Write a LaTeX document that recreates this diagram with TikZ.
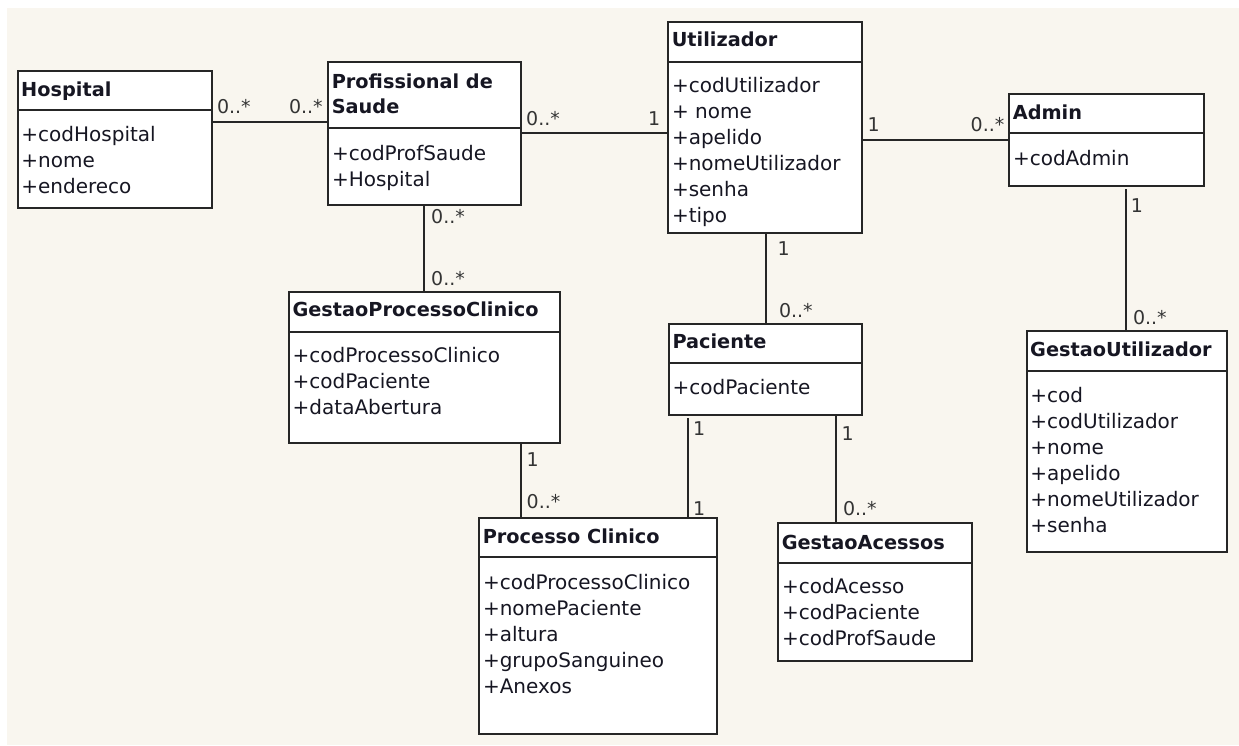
\documentclass[tikz,border=0pt]{standalone}
\usepackage{fontspec}
\setmainfont{DejaVu Sans}
\definecolor{bgcol}{RGB}{249,246,239}
\definecolor{linecol}{RGB}{38,38,38}
\definecolor{txtcol}{RGB}{22,22,34}
\definecolor{multcol}{RGB}{52,52,52}

\begin{document}
\begin{tikzpicture}[x=1pt,y=-1pt,
    cls/.style={draw=linecol,line width=1.8pt,fill=white,anchor=north west,inner sep=0pt,outer sep=0pt},
    divider/.style={draw=linecol,line width=1.8pt},
    ttl/.style={anchor=base west,inner sep=0pt,align=left,text=txtcol,font=\bfseries\fontsize{19.3}{25}\selectfont},
    att/.style={anchor=base west,inner sep=0pt,align=left,text=txtcol,font=\fontsize{20}{26}\selectfont},
    multlbl/.style={anchor=base west,inner sep=0pt,text=multcol,font=\fontsize{19}{19}\selectfont},
    assoc/.style={draw=linecol,line width=1.8pt}]
    \useasboundingbox (0,0) rectangle (1239,745);
    \fill[white] (0,0) rectangle (1239,745);
    \fill[bgcol] (7,8) rectangle (1239,745);

    % classes (multi-line texts sit on the baseline of their last line)
    \node[cls,minimum width=194.6,minimum height=137.6] (hosp) at (17.7,70.7) {};
    \draw[divider] (hosp.west |- 0,110) -- (hosp.east |- 0,110);
    \node[ttl] (hosp-t) at (21,96.7) {Hospital};
    \node[att] (hosp-a) at (21.2,193.7) {+codHospital\\+nome\\+endereco};

    \node[cls,minimum width=192.4,minimum height=142.7] (prof) at (328.3,62.3) {};
    \draw[divider] (prof.west |- 0,128) -- (prof.east |- 0,128);
    \node[ttl] (prof-t) at (331.6,113.3) {Profissional de\\Saude};
    \node[att] (prof-a) at (331.8,186.5) {+codProfSaude\\+Hospital};

    \node[cls,minimum width=193.4,minimum height=211] (util) at (668.3,22.3) {};
    \draw[divider] (util.west |- 0,61.7) -- (util.east |- 0,61.7);
    \node[ttl] (util-t) at (671.6,46.7) {Utilizador};
    \node[att] (util-a) at (671.8,222.7) {+codUtilizador\\+ nome\\+apelido\\+nomeUtilizador\\+senha\\+tipo};

    \node[cls,minimum width=194.7,minimum height=91.7] (admin) at (1009.3,94) {};
    \draw[divider] (admin.west |- 0,133.3) -- (admin.east |- 0,133.3);
    \node[ttl] (admin-t) at (1012.6,119) {Admin};
    \node[att] (admin-a) at (1012.8,165) {+codAdmin};

    \node[cls,minimum width=270.7,minimum height=150.4] (gpc) at (289,292.3) {};
    \draw[divider] (gpc.west |- 0,331.7) -- (gpc.east |- 0,331.7);
    \node[ttl] (gpc-t) at (292.3,316.7) {GestaoProcessoClinico};
    \node[att] (gpc-a) at (292.5,414.7) {+codProcessoClinico\\+codPaciente\\+dataAbertura};

    \node[cls,minimum width=192.7,minimum height=91.3] (pac) at (669,323.7) {};
    \draw[divider] (pac.west |- 0,363.3) -- (pac.east |- 0,363.3);
    \node[ttl] (pac-t) at (672.3,348.3) {Paciente};
    \node[att] (pac-a) at (672.5,394) {+codPaciente};

    \node[cls,minimum width=200,minimum height=220.7] (gu) at (1026.7,331) {};
    \draw[divider] (gu.west |- 0,370.7) -- (gu.east |- 0,370.7);
    \node[ttl] (gu-t) at (1030,356.7) {GestaoUtilizador};
    \node[att] (gu-a) at (1030.2,532.3) {+cod\\+codUtilizador\\+nome\\+apelido\\+nomeUtilizador\\+senha};

    \node[cls,minimum width=237.4,minimum height=215.7] (pc) at (479.3,518.3) {};
    \draw[divider] (pc.west |- 0,557.3) -- (pc.east |- 0,557.3);
    \node[ttl] (pc-t) at (482.6,543.3) {Processo Clinico};
    \node[att] (pc-a) at (482.8,693.3) {+codProcessoClinico\\+nomePaciente\\+altura\\+grupoSanguineo\\+Anexos};

    \node[cls,minimum width=194,minimum height=137.4] (ga) at (778.3,523.3) {};
    \draw[divider] (ga.west |- 0,562.7) -- (ga.east |- 0,562.7);
    \node[ttl] (ga-t) at (781.6,549) {GestaoAcessos};
    \node[att] (ga-a) at (781.8,645.3) {+codAcesso\\+codPaciente\\+codProfSaude};

    % associations
    \draw[assoc] (hosp.east |- 0,121.7) -- (prof.west |- 0,121.7);
    \node[multlbl] (m1) at (216.8,113) {0..*};
    \node[multlbl] (m2) at (288.8,113) {0..*};

    \draw[assoc] (prof.east |- 0,133.3) -- (util.west |- 0,133.3);
    \node[multlbl] (m3) at (526,125) {0..*};
    \node[multlbl] (m4) at (648,125) {1};

    \draw[assoc] (util.east |- 0,140) -- (admin.west |- 0,140);
    \node[multlbl] (m5) at (867.3,131.7) {1};
    \node[multlbl] (m6) at (970.5,131.7) {0..*};

    \draw[assoc] (prof.south -| 423.7,0) -- (gpc.north -| 423.7,0);
    \node[multlbl] (m7) at (431,223.3) {0..*};
    \node[multlbl] (m8) at (431,285.7) {0..*};

    \draw[assoc] (util.south -| 766,0) -- (pac.north -| 766,0);
    \node[multlbl] (m9) at (777.3,255) {1};
    \node[multlbl] (m10) at (778.8,317.3) {0..*};

    \draw[assoc,shorten <=3.3pt] (admin.south -| 1125.7,0) -- (gu.north -| 1125.7,0);
    \node[multlbl] (m11) at (1130.7,212.3) {1};
    \node[multlbl] (m12) at (1132.8,324) {0..*};

    \draw[assoc] (gpc.south -| 520.7,0) -- (pc.north -| 520.7,0);
    \node[multlbl] (m13) at (526.3,466.7) {1};
    \node[multlbl] (m14) at (526.5,508.3) {0..*};

    \draw[assoc,shorten <=3.3pt] (pac.south -| 687.7,0) -- (pc.north -| 687.7,0);
    \node[multlbl] (m15) at (693,435) {1};
    \node[multlbl] (m16) at (693,515) {1};

    \draw[assoc] (pac.south -| 835.7,0) -- (ga.north -| 835.7,0);
    \node[multlbl] (m17) at (841.3,440) {1};
    \node[multlbl] (m18) at (842.8,515) {0..*};
\end{tikzpicture}
\end{document}
